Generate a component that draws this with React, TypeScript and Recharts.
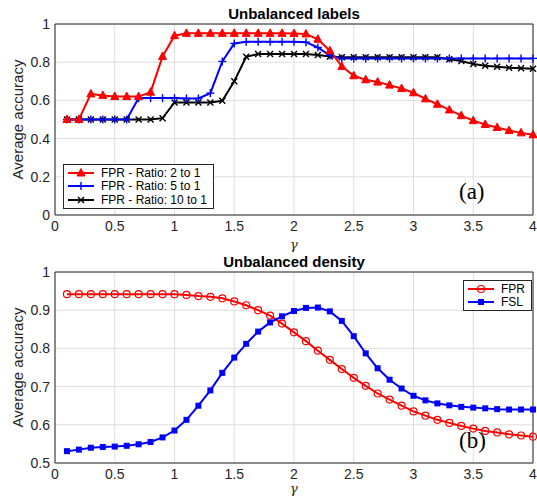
import { LineChart, Line, XAxis, YAxis, CartesianGrid, ReferenceArea } from "recharts"

const GAMMA = [
    0.1, 0.2, 0.3, 0.4, 0.5, 0.6, 0.7, 0.8, 0.9, 1.0,
    1.1, 1.2, 1.3, 1.4, 1.5, 1.6, 1.7, 1.8, 1.9, 2.0,
    2.1, 2.2, 2.3, 2.4, 2.5, 2.6, 2.7, 2.8, 2.9, 3.0,
    3.1, 3.2, 3.3, 3.4, 3.5, 3.6, 3.7, 3.8, 3.9, 4.0,
]

// top panel: unbalanced labels
const RATIO_2 = [
    0.5, 0.5, 0.634, 0.626, 0.62, 0.62, 0.62, 0.643, 0.83, 0.939,
    0.951, 0.951, 0.951, 0.951, 0.951, 0.951, 0.951, 0.951, 0.951, 0.95,
    0.948, 0.92, 0.86, 0.778, 0.729, 0.708, 0.696, 0.68, 0.662, 0.64,
    0.608, 0.58, 0.55, 0.52, 0.494, 0.474, 0.458, 0.442, 0.43, 0.42,
]
const RATIO_5 = [
    0.5, 0.5, 0.5, 0.5, 0.5, 0.5, 0.612, 0.612, 0.612, 0.612,
    0.61, 0.61, 0.638, 0.804, 0.898, 0.907, 0.907, 0.907, 0.907, 0.907,
    0.905, 0.877, 0.835, 0.82, 0.82, 0.82, 0.82, 0.82, 0.82, 0.82,
    0.82, 0.82, 0.82, 0.82, 0.82, 0.82, 0.82, 0.82, 0.82, 0.82,
]
const RATIO_10 = [
    0.5, 0.5, 0.5, 0.5, 0.5, 0.5, 0.5, 0.5, 0.507, 0.589,
    0.589, 0.589, 0.589, 0.598, 0.7, 0.828, 0.843, 0.843, 0.843, 0.843,
    0.843, 0.838, 0.83, 0.826, 0.826, 0.826, 0.826, 0.826, 0.826, 0.826,
    0.826, 0.826, 0.816, 0.806, 0.79, 0.781, 0.776, 0.771, 0.768, 0.766,
]

// bottom panel: unbalanced density
const FPR = [
    0.942, 0.942, 0.942, 0.942, 0.942, 0.942, 0.942, 0.942, 0.942, 0.942,
    0.94, 0.937, 0.935, 0.931, 0.923, 0.913, 0.9, 0.886, 0.865, 0.842,
    0.819, 0.794, 0.77, 0.746, 0.723, 0.702, 0.682, 0.666, 0.65, 0.635,
    0.624, 0.613, 0.605, 0.597, 0.59, 0.584, 0.58, 0.575, 0.572, 0.569,
]
const FSL = [
    0.531, 0.535, 0.54, 0.542, 0.543, 0.545, 0.549, 0.555, 0.567, 0.585,
    0.613, 0.65, 0.69, 0.736, 0.776, 0.812, 0.844, 0.868, 0.884, 0.898,
    0.906, 0.907, 0.897, 0.872, 0.832, 0.787, 0.748, 0.718, 0.695, 0.676,
    0.664, 0.656, 0.651, 0.647, 0.645, 0.643, 0.641, 0.64, 0.64, 0.64,
]

const X_TICKS = [0, 0.5, 1, 1.5, 2, 2.5, 3, 3.5, 4]
const Y_TICKS_TOP = [0, 0.2, 0.4, 0.6, 0.8, 1]
const Y_TICKS_BOTTOM = [0.5, 0.6, 0.7, 0.8, 0.9, 1]

const topData = GAMMA.map((g, i) => ({ g, r2: RATIO_2[i], r5: RATIO_5[i], r10: RATIO_10[i] }))
const bottomData = GAMMA.map((g, i) => ({ g, fpr: FPR[i], fsl: FSL[i] }))

const FONT = "'Liberation Sans', Arial, Helvetica, sans-serif"
const SERIF = "'Liberation Serif', 'Times New Roman', serif"
const RED = "#ff0000"
const BLUE = "#0000ff"
const BLACK = "#000000"
const GRID = "#dedede"

const Tri = (p: any) => (
    <polygon key={p.index} points={`${p.cx},${p.cy - 4.5} ${p.cx - 4},${p.cy + 3} ${p.cx + 4},${p.cy + 3}`} fill={RED} stroke={RED} strokeWidth={1} />
)
const Plus = (p: any) => (
    <g key={p.index} stroke={BLUE} strokeWidth={1.4}>
        <line x1={p.cx - 4} y1={p.cy} x2={p.cx + 4} y2={p.cy} />
        <line x1={p.cx} y1={p.cy - 4} x2={p.cx} y2={p.cy + 4} />
    </g>
)
const Cross = (p: any) => (
    <g key={p.index} stroke={BLACK} strokeWidth={1.4}>
        <line x1={p.cx - 3} y1={p.cy - 3} x2={p.cx + 3} y2={p.cy + 3} />
        <line x1={p.cx - 3} y1={p.cy + 3} x2={p.cx + 3} y2={p.cy - 3} />
    </g>
)
const Ring = (p: any) => <circle key={p.index} cx={p.cx} cy={p.cy} r={3.5} fill="none" stroke={RED} strokeWidth={1.2} />
const Sq = (p: any) => <rect key={p.index} x={p.cx - 3} y={p.cy - 3} width={6} height={6} fill={BLUE} />

const tick = { fontSize: 14, fill: "#262626", fontFamily: FONT }
const gammaStyle = { fontFamily: "'DejaVu Serif', serif", fontStyle: "italic", fontSize: 13, fill: "#262626" }
const yLabelStyle = { textAnchor: "middle", fontSize: 15, fill: "#262626", fontFamily: FONT }

function Row({ color, marker, text }: { color: string; marker: (p: any) => any; text: string }) {
    return (
        <div style={{ display: "flex", alignItems: "center", height: 13.5, whiteSpace: "nowrap" }}>
            <svg width={32} height={12} style={{ marginRight: 4, flex: "none" }}>
                <line x1={3} y1={6} x2={29} y2={6} stroke={color} strokeWidth={2} />
                {marker({ cx: 16, cy: 6, index: 0 })}
            </svg>
            <span>{text}</span>
        </div>
    )
}

const abs = (left: number, top: number, extra: any = {}) => ({ position: "absolute" as const, left, top, ...extra })
const legendBox = { border: "1.5px solid #262626", background: "#fff", padding: "1px 6px 1px 1px", fontSize: 12, color: "#000" }
const titleStyle = { width: 478, textAlign: "center", fontWeight: "bold", fontSize: 15 }

export default function App() {
    return (
        <div style={{ position: "absolute", left: 0, top: 0, width: 537, height: 498, background: "#fff", fontFamily: FONT }}>
            <div style={abs(0, 0)}>
                <LineChart width={537} height={256} data={topData} margin={{ top: 24, right: 4, left: 0, bottom: 0 }}>
                    <CartesianGrid stroke={GRID} />
                    <XAxis dataKey="g" type="number" domain={[0, 4]} ticks={X_TICKS} tick={tick} tickLine={false} tickSize={4} axisLine={false} height={41}
                        label={{ value: "γ", position: "insideBottom", offset: 7, style: gammaStyle }} />
                    <YAxis type="number" domain={[0, 1]} ticks={Y_TICKS_TOP} tick={tick} tickLine={false} tickSize={3} tickMargin={2} axisLine={false} width={55}
                        label={{ value: "Average accuracy", angle: -90, position: "insideLeft", offset: 18, style: yLabelStyle }} />
                    <ReferenceArea x1={0} x2={4} y1={0} y2={1} fill="none" stroke="#262626" strokeWidth={1} />
                    <Line dataKey="r10" stroke={BLACK} strokeWidth={2} dot={Cross} isAnimationActive={false} />
                    <Line dataKey="r5" stroke={BLUE} strokeWidth={2} dot={Plus} isAnimationActive={false} />
                    <Line dataKey="r2" stroke={RED} strokeWidth={2} dot={Tri} isAnimationActive={false} />
                </LineChart>
            </div>

            <div style={abs(0, 250)}>
                <LineChart width={537} height={248} data={bottomData} margin={{ top: 22, right: 4, left: 0, bottom: 0 }}>
                    <CartesianGrid stroke={GRID} />
                    <XAxis dataKey="g" type="number" domain={[0, 4]} ticks={X_TICKS} tick={tick} tickLine={false} tickSize={4} axisLine={false} height={35}
                        label={{ value: "γ", position: "insideBottom", offset: 5, style: gammaStyle }} />
                    <YAxis type="number" domain={[0.5, 1]} ticks={Y_TICKS_BOTTOM} tick={tick} tickLine={false} tickSize={3} tickMargin={2} axisLine={false} width={55}
                        label={{ value: "Average accuracy", angle: -90, position: "insideLeft", offset: 18, style: yLabelStyle }} />
                    <ReferenceArea x1={0} x2={4} y1={0.5} y2={1} fill="none" stroke="#262626" strokeWidth={1} />
                    <Line dataKey="fpr" stroke={RED} strokeWidth={2} dot={Ring} isAnimationActive={false} />
                    <Line dataKey="fsl" stroke={BLUE} strokeWidth={2} dot={Sq} isAnimationActive={false} />
                </LineChart>
            </div>

            <div style={abs(55, 5, titleStyle)}>Unbalanced labels</div>
            <div style={abs(55, 253, titleStyle)}>Unbalanced density</div>

            <div style={abs(63, 164, legendBox)}>
                <Row color={RED} marker={Tri} text="FPR - Ratio: 2 to 1" />
                <Row color={BLUE} marker={Plus} text="FPR - Ratio: 5 to 1" />
                <Row color={BLACK} marker={Cross} text="FPR - Ratio: 10 to 1" />
            </div>
            <div style={abs(463, 280, legendBox)}>
                <Row color={RED} marker={Ring} text="FPR" />
                <Row color={BLUE} marker={Sq} text="FSL" />
            </div>

            <div style={abs(459, 179, { fontFamily: SERIF, fontSize: 23 })}>(a)</div>
            <div style={abs(459, 428, { fontFamily: SERIF, fontSize: 23 })}>(b)</div>
        </div>
    )
}
